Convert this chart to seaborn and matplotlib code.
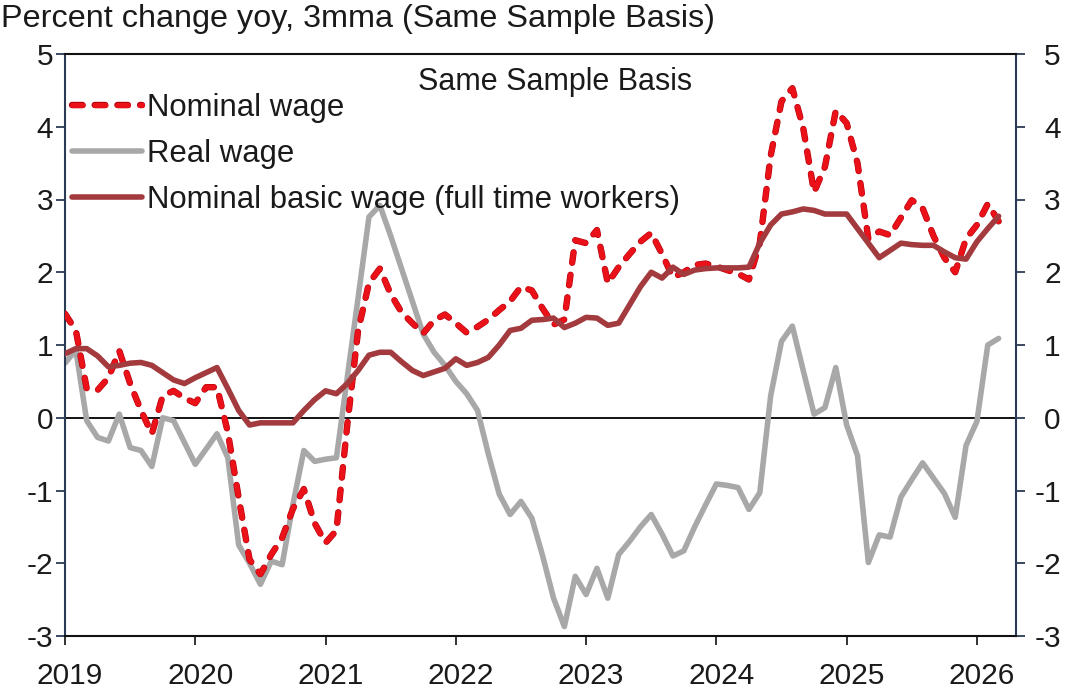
import numpy as np
import pandas as pd
import matplotlib
matplotlib.use("Agg")
import matplotlib.pyplot as plt
import matplotlib.transforms as mtransforms
import matplotlib.patheffects as pe
import seaborn as sns

# ---------------- data (monthly, Jan 2019 .. Mar 2026) ----------------
start_year = 2019
real_wage = [0.75, 0.93, -0.04, -0.27, -0.32, 0.05, -0.41, -0.45, -0.67, 0.0,
             -0.04, -0.34, -0.64, -0.43, -0.22, -0.55, -1.75, -2.0, -2.29, -1.97,
             -2.02, -1.19, -0.45, -0.6, -0.57, -0.55, 0.55, 1.65, 2.76, 2.92,
             2.5, 2.05, 1.6, 1.15, 0.9, 0.72, 0.5, 0.33, 0.1, -0.5,
             -1.05, -1.33, -1.15, -1.38, -1.9, -2.48, -2.87, -2.18, -2.43, -2.07,
             -2.48, -1.88, -1.7, -1.5, -1.33, -1.6, -1.9, -1.83, -1.5, -1.2,
             -0.91, -0.93, -0.96, -1.26, -1.03, 0.3, 1.05, 1.26, 0.65, 0.05,
             0.14, 0.69, -0.1, -0.52, -1.99, -1.61, -1.64, -1.09, -0.85, -0.62,
             -0.83, -1.04, -1.37, -0.38, -0.05, 1.0, 1.09]
nominal_wage = [1.43, 1.2, 0.4, 0.38, 0.55, 0.92, 0.47, 0.1, -0.22, 0.3,
                0.37, 0.27, 0.2, 0.42, 0.42, -0.2, -1.1, -1.95, -2.15, -1.88,
                -1.65, -1.25, -0.98, -1.45, -1.72, -1.55, -0.1, 1.2, 1.85, 2.05,
                1.7, 1.45, 1.3, 1.16, 1.34, 1.42, 1.3, 1.17, 1.25, 1.35,
                1.48, 1.6, 1.8, 1.75, 1.5, 1.28, 1.35, 2.44, 2.4, 2.58,
                1.85, 2.07, 2.25, 2.42, 2.54, 2.25, 1.93, 2.0, 2.1, 2.12,
                2.08, 2.03, 1.98, 1.9, 2.4, 3.6, 4.35, 4.53, 3.98, 3.1,
                3.45, 4.22, 4.05, 3.5, 2.46, 2.56, 2.51, 2.75, 2.99, 2.88,
                2.5, 2.2, 2.0, 2.46, 2.65, 2.94, 2.7]
basic_wage = [0.88, 0.95, 0.95, 0.85, 0.7, 0.72, 0.75, 0.76, 0.72, 0.62,
              0.52, 0.47, 0.55, 0.62, 0.69, 0.4, 0.1, -0.1, -0.07, -0.07,
              -0.07, -0.07, 0.1, 0.25, 0.37, 0.33, 0.47, 0.65, 0.86, 0.9,
              0.9, 0.77, 0.65, 0.58, 0.63, 0.68, 0.81, 0.72, 0.76, 0.83,
              1.0, 1.2, 1.23, 1.34, 1.35, 1.37, 1.24, 1.3, 1.38, 1.37,
              1.27, 1.3, 1.55, 1.8, 2.0, 1.92, 2.07, 1.97, 2.03, 2.05,
              2.06, 2.06, 2.06, 2.07, 2.4, 2.65, 2.8, 2.83, 2.87, 2.85,
              2.8, 2.8, 2.8, 2.6, 2.4, 2.2, 2.3, 2.4, 2.38, 2.37,
              2.37, 2.28, 2.2, 2.18, 2.42, 2.6, 2.77]
year_ticks = [2019, 2020, 2021, 2022, 2023, 2024, 2025, 2026]
y_ticks = [-3, -2, -1, 0, 1, 2, 3, 4, 5]
labels = ["Nominal wage", "Real wage", "Nominal basic wage (full time workers)"]
title = "Percent change yoy, 3mma (Same Sample Basis)"
legend_title = "Same Sample Basis"

n = len(real_wage)
t = start_year + np.arange(n) / 12.0
df = pd.DataFrame({"t": t, "real": real_wage, "nominal": nominal_wage, "basic": basic_wage})

# ---------------- style ----------------
sns.set_style("white")
plt.rcParams["font.family"] = ["Liberation Sans", "DejaVu Sans"]
plt.rcParams["axes.unicode_minus"] = False

W, H = 1074, 691
fig = plt.figure(figsize=(W / 100, H / 100), dpi=100)
ax = fig.add_axes([65 / W, 1 - 636 / H, (1016 - 65) / W, (636 - 54) / H])

C_RED = "#EA1119"
C_RED_EDGE = "#B3000C"
C_GRAY = "#A8A8A8"
C_BROWN = "#A23A3E"

ax.axhline(0, color="black", lw=1.3, zorder=1)
sns.lineplot(data=df, x="t", y="real", ax=ax, color=C_GRAY, lw=4.0, zorder=2,
             solid_capstyle="round", solid_joinstyle="round")
sns.lineplot(data=df, x="t", y="nominal", ax=ax, color=C_RED, lw=3.8, zorder=3)
sns.lineplot(data=df, x="t", y="basic", ax=ax, color=C_BROWN, lw=4.0, zorder=4,
             solid_capstyle="round", solid_joinstyle="round")
lines = ax.get_lines()
l_gray, l_red, l_brown = lines[1], lines[2], lines[3]
l_red.set_dashes([2.0, 2.3])
l_red.set_dash_capstyle("round")
l_red.set_dash_joinstyle("round")
l_red.set_path_effects([pe.Stroke(linewidth=4.6, foreground=C_RED_EDGE), pe.Normal()])

ax.set_xlim(2019.0, 2026.30)
ax.set_ylim(-3, 5)
ax.set_xticks(year_ticks)
ax.set_xticklabels([str(y) for y in year_ticks])
ax.set_yticks(y_ticks)
ax.set_yticklabels([str(v) for v in y_ticks])
ax.set_xlabel("")
ax.set_ylabel("")

fs_tick = 21.5
ax.tick_params(axis="x", direction="out", length=6.5, width=1.3, color="#222222",
               labelsize=fs_tick, pad=12, top=False, bottom=True, labelcolor="#1a1a1a")
ax.tick_params(axis="y", direction="out", length=6.5, width=1.3, color="#2B3A55",
               labelsize=fs_tick, pad=2, left=True, right=True, labelleft=True,
               labelright=True, labelcolor="#1a1a1a")
# right tick labels right-aligned (digits aligned at right)
for tk in ax.yaxis.get_major_ticks():
    tk.label2.set_horizontalalignment("right")
    tk.label2.set_transform(tk.label2.get_transform() +
                            mtransforms.ScaledTranslation(33 / 100, 0, fig.dpi_scale_trans))
# x labels shifted slightly right as in reference
for lab in ax.get_xticklabels():
    lab.set_transform(lab.get_transform() +
                      mtransforms.ScaledTranslation(5 / 100, 0, fig.dpi_scale_trans))

for side in ["left", "right"]:
    ax.spines[side].set_color("#2B3A55")
    ax.spines[side].set_linewidth(1.5)
for side in ["top", "bottom"]:
    ax.spines[side].set_color("#111111")
    ax.spines[side].set_linewidth(1.5)

# title
fig.text(1 / W, 1 - 19 / H, title, ha="left", va="center", fontsize=23.3, color="#1a1a1a")

# legend
leg = ax.legend([l_red, l_gray, l_brown], labels, loc="upper left",
                bbox_to_anchor=(72 / W, 1 - 93 / H), bbox_transform=fig.transFigure,
                frameon=False, fontsize=22.4, handlelength=2.25, handletextpad=0.15,
                labelspacing=0.52, borderpad=0, borderaxespad=0)
for txt in leg.get_texts():
    txt.set_color("#1a1a1a")
fig.text(555 / W, 1 - 82 / H, legend_title, ha="center", va="center", fontsize=22, color="#1a1a1a")

fig.savefig("out.png", dpi=100)
